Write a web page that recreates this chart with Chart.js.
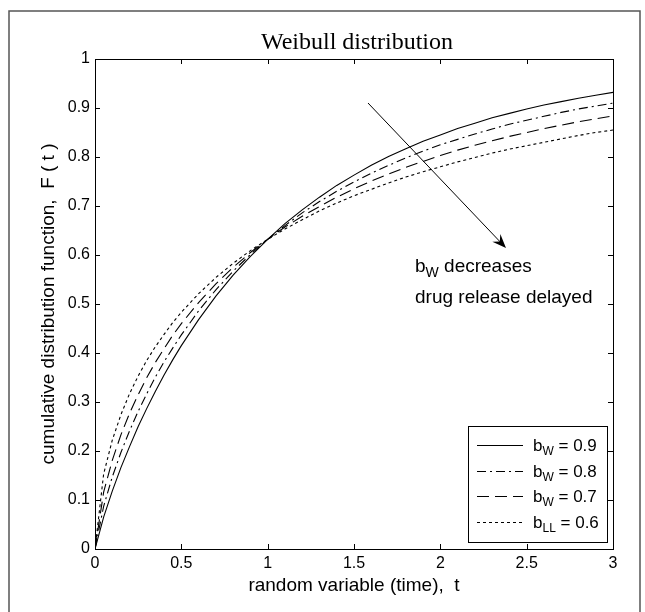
<!DOCTYPE html>
<html>
<head>
<meta charset="utf-8">
<script src="https://cdn.jsdelivr.net/npm/chart.js@4/dist/chart.umd.min.js"></script>
<style>
  html, body { margin: 0; padding: 0; background: #fff; }
  canvas { display: block; }
</style>
</head>
<body>
<canvas id="weibullChart" width="645" height="612"></canvas>
<script>
// random variable t (time)
const tValues = [0, 0.05, 0.1, 0.15, 0.2, 0.25, 0.3, 0.35, 0.4, 0.45, 0.5,
  0.6, 0.7, 0.8, 0.9, 1.0, 1.1, 1.2, 1.3, 1.4, 1.5, 1.6, 1.7, 1.8, 1.9, 2.0,
  2.1, 2.2, 2.3, 2.4, 2.5, 2.6, 2.7, 2.8, 2.9, 3.0];

// F(t), one array per shape parameter
const cdfB09 = [0, 0.065, 0.118, 0.166, 0.209, 0.250, 0.287, 0.322, 0.355, 0.386, 0.415,
  0.468, 0.516, 0.559, 0.597, 0.632, 0.664, 0.692, 0.718, 0.742, 0.763, 0.783, 0.801,
  0.817, 0.832, 0.845, 0.858, 0.869, 0.880, 0.889, 0.898, 0.906, 0.913, 0.920, 0.926, 0.932];
const cdfB08 = [0, 0.087, 0.147, 0.197, 0.241, 0.281, 0.317, 0.351, 0.382, 0.410, 0.437,
  0.486, 0.529, 0.567, 0.601, 0.632, 0.660, 0.686, 0.709, 0.730, 0.749, 0.767, 0.783,
  0.798, 0.812, 0.825, 0.836, 0.847, 0.857, 0.867, 0.875, 0.883, 0.891, 0.898, 0.904, 0.910];
const cdfB07 = [0, 0.116, 0.181, 0.233, 0.277, 0.315, 0.350, 0.381, 0.409, 0.436, 0.460,
  0.503, 0.541, 0.575, 0.605, 0.632, 0.657, 0.679, 0.699, 0.718, 0.735, 0.751, 0.765,
  0.779, 0.791, 0.803, 0.814, 0.824, 0.833, 0.842, 0.850, 0.858, 0.865, 0.872, 0.878, 0.884];
const cdfB06 = [0, 0.153, 0.222, 0.274, 0.317, 0.353, 0.385, 0.413, 0.438, 0.462, 0.483,
  0.521, 0.554, 0.583, 0.609, 0.632, 0.653, 0.672, 0.690, 0.706, 0.721, 0.734, 0.747,
  0.759, 0.770, 0.780, 0.790, 0.799, 0.808, 0.816, 0.823, 0.830, 0.837, 0.844, 0.850, 0.855];

const seriesLabels = [["W", "0.9"], ["W", "0.8"], ["W", "0.7"], ["LL", "0.6"]];
const seriesData = [cdfB09, cdfB08, cdfB07, cdfB06];
const seriesDash = [[], [9, 4, 2, 4], [12, 6], [3, 3]];

const xTicks = [0, 0.5, 1, 1.5, 2, 2.5, 3];
const yTicks = [0, 0.1, 0.2, 0.3, 0.4, 0.5, 0.6, 0.7, 0.8, 0.9, 1];

const SANS = "'Liberation Sans', Arial, Helvetica, sans-serif";
const SERIF = "'Liberation Serif', 'Times New Roman', serif";

// draws "b" + subscript + rest
function subText(ctx, x, y, base, sub, rest, size, subSize, drop) {
  ctx.textAlign = "left";
  ctx.textBaseline = "alphabetic";
  ctx.font = size + "px " + SANS;
  ctx.fillText(base, x, y);
  x += ctx.measureText(base).width;
  ctx.font = subSize + "px " + SANS;
  ctx.fillText(sub, x, y + drop);
  x += ctx.measureText(sub).width;
  ctx.font = size + "px " + SANS;
  ctx.fillText(rest, x, y);
}

const matlabFrame = {
  id: "matlabFrame",
  afterDraw(chart) {
    const ctx = chart.ctx;
    const { left, right, top, bottom } = chart.chartArea;
    const xs = chart.scales.x, ys = chart.scales.y;
    ctx.save();

    // figure border
    ctx.strokeStyle = "#555";
    ctx.lineWidth = 1.5;
    ctx.beginPath();
    ctx.moveTo(9, 612);
    ctx.lineTo(9, 11);
    ctx.lineTo(640, 11);
    ctx.lineTo(640, 612);
    ctx.stroke();

    // axes box and inward ticks
    ctx.strokeStyle = "#000";
    ctx.lineWidth = 1;
    ctx.strokeRect(left + 0.5, top + 0.5, right - left, bottom - top);
    ctx.beginPath();
    xTicks.forEach(v => {
      const px = Math.round(xs.getPixelForValue(v)) + 0.5;
      ctx.moveTo(px, bottom); ctx.lineTo(px, bottom - 5);
      ctx.moveTo(px, top); ctx.lineTo(px, top + 5);
    });
    yTicks.forEach(v => {
      const py = Math.round(ys.getPixelForValue(v)) + 0.5;
      ctx.moveTo(left, py); ctx.lineTo(left + 5, py);
      ctx.moveTo(right, py); ctx.lineTo(right - 5, py);
    });
    ctx.stroke();

    ctx.fillStyle = "#000";

    // title
    ctx.font = "24px " + SERIF;
    ctx.textAlign = "center";
    ctx.textBaseline = "alphabetic";
    ctx.fillText("Weibull distribution", 357, 49);

    // axis labels
    ctx.font = "19px " + SANS;
    ctx.fillText("random variable (time),  t", (left + right) / 2, 591);
    ctx.save();
    ctx.translate(54, (top + bottom) / 2);
    ctx.rotate(-Math.PI / 2);
    ctx.fillText("cumulative distribution function,  F ( t )", 0, 0);
    ctx.restore();

    // arrow
    const ax0 = 368, ay0 = 103, ax1 = 506, ay1 = 248;
    const ang = Math.atan2(ay1 - ay0, ax1 - ax0);
    ctx.beginPath();
    ctx.moveTo(ax0, ay0);
    ctx.lineTo(ax1 - 8 * Math.cos(ang), ay1 - 8 * Math.sin(ang));
    ctx.stroke();
    ctx.beginPath();
    ctx.moveTo(ax1, ay1);
    ctx.lineTo(ax1 - 14 * Math.cos(ang) + 5.5 * Math.sin(ang), ay1 - 14 * Math.sin(ang) - 5.5 * Math.cos(ang));
    ctx.lineTo(ax1 - 9 * Math.cos(ang), ay1 - 9 * Math.sin(ang));
    ctx.lineTo(ax1 - 14 * Math.cos(ang) - 5.5 * Math.sin(ang), ay1 - 14 * Math.sin(ang) + 5.5 * Math.cos(ang));
    ctx.closePath();
    ctx.fill();

    // annotation
    subText(ctx, 415, 272, "b", "W", " decreases", 19, 14, 5);
    ctx.font = "19px " + SANS;
    ctx.textAlign = "left";
    ctx.fillText("drug release delayed", 415, 303);

    // legend box
    const lx0 = 468, lx1 = 607, ly0 = 426, ly1 = 542;
    ctx.fillStyle = "#fff";
    ctx.fillRect(lx0, ly0, lx1 - lx0, ly1 - ly0);
    ctx.strokeRect(lx0 + 0.5, ly0 + 0.5, lx1 - lx0, ly1 - ly0);
    ctx.fillStyle = "#000";
    seriesLabels.forEach((lab, i) => {
      const cy = 445 + i * 25.5;
      ctx.setLineDash(seriesDash[i]);
      ctx.beginPath();
      ctx.moveTo(477, Math.round(cy) + 0.5);
      ctx.lineTo(523, Math.round(cy) + 0.5);
      ctx.stroke();
      ctx.setLineDash([]);
      subText(ctx, 533, cy + 6, "b", lab[0], " = " + lab[1], 17, 12, 4);
    });

    ctx.restore();
  }
};

const datasets = seriesData.map((vals, i) => ({
  label: "b = " + seriesLabels[i][1],
  data: tValues.map((t, k) => ({ x: t, y: vals[k] })),
  borderColor: "#000",
  borderWidth: 1.1,
  borderDash: seriesDash[i],
  pointRadius: 0,
  tension: 0,
  fill: false
}));

new Chart(document.getElementById("weibullChart").getContext("2d"), {
  type: "line",
  data: { datasets },
  plugins: [matlabFrame],
  options: {
    responsive: false,
    animation: false,
    layout: { padding: { top: 59, right: 32, left: 0, bottom: 0 } },
    plugins: {
      legend: { display: false },
      title: { display: false },
      tooltip: { enabled: false }
    },
    scales: {
      x: {
        type: "linear",
        min: 0,
        max: 3,
        afterFit: s => { s.height = 63; },
        afterBuildTicks: s => { s.ticks = xTicks.map(v => ({ value: v })); },
        ticks: {
          color: "#000",
          padding: 5,
          maxRotation: 0,
          autoSkip: false,
          font: { family: SANS, size: 16 },
          callback: v => String(v)
        },
        grid: { display: false, drawTicks: false },
        border: { display: false }
      },
      y: {
        min: 0,
        max: 1,
        afterFit: s => { s.width = 95; },
        afterBuildTicks: s => { s.ticks = yTicks.map(v => ({ value: v })); },
        ticks: {
          color: "#000",
          padding: 5,
          autoSkip: false,
          font: { family: SANS, size: 16 },
          callback: v => String(Math.round(v * 10) / 10)
        },
        grid: { display: false, drawTicks: false },
        border: { display: false }
      }
    }
  }
});
</script>
</body>
</html>
